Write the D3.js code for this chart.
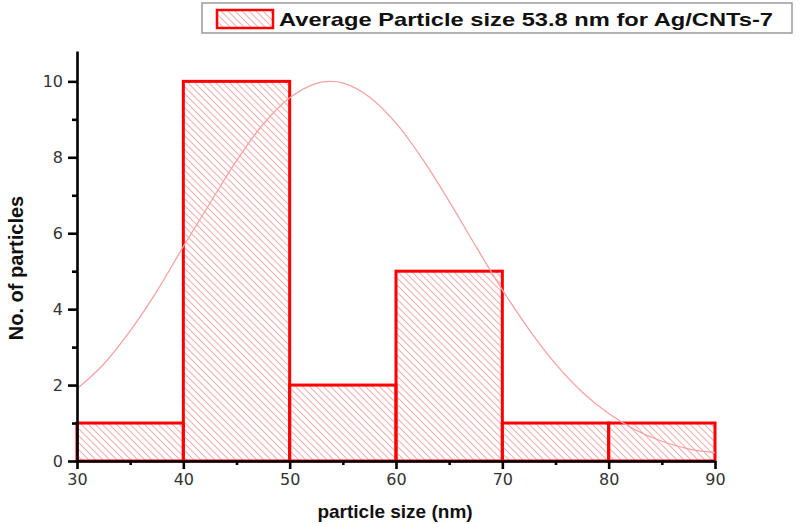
<!DOCTYPE html>
<html><head><meta charset="utf-8">
<script src="https://d3js.org/d3.v7.min.js"></script>
<style>body{margin:0;background:#fff}svg{display:block}</style>
</head><body><svg id="c" width="800" height="524"></svg>
<script>
// ---- data ----
const binStarts = [30, 40, 50, 60, 70, 80];
const binEnds   = [40, 50, 60, 70, 80, 90];
const counts    = [1, 10, 2, 5, 1, 1];
// fitted distribution curve
const fitX = [30, 32.5, 35, 37.5, 40, 42.5, 45, 47.5, 50, 52.5, 53.8, 55, 57.5, 60, 62.5, 65, 67.5, 70, 72.5, 75, 77.5, 80, 82.5, 85, 87.5, 90];
const fitY = [1.9, 2.55, 3.43, 4.47, 5.65, 6.79, 7.91, 8.87, 9.57, 9.95, 10, 9.96, 9.59, 8.9, 7.95, 6.84, 5.66, 4.51, 3.47, 2.56, 1.82, 1.25, 0.82, 0.52, 0.32, 0.22];
const xTicks = [30, 40, 50, 60, 70, 80, 90];
const xMinor = [35, 45, 55, 65, 75, 85];
const yTicks = [0, 2, 4, 6, 8, 10];
const yMinor = [1, 3, 5, 7, 9];
const legendLabel = "Average Particle size 53.8 nm for Ag/CNTs-7";
const xTitle = "particle size (nm)";
const yTitle = "No. of particles";

// ---- chart ----
const svg = d3.select("#c");
const x = d3.scaleLinear().domain([30, 90]).range([77, 715]);
const y = d3.scaleLinear().domain([0, 10.8]).range([461, 51]);

const defs = svg.append("defs");
defs.append("pattern").attr("id", "hatch").attr("patternUnits", "userSpaceOnUse")
  .attr("width", 7).attr("height", 7)
  .append("path").attr("d", "M-1,-1 L8,8 M-1,6 L1,8 M6,-1 L8,1")
  .attr("stroke", "#f4b0b0").attr("stroke-width", 1.1).attr("fill", "none");

const bars = binStarts.map((s, i) => ({s, e: binEnds[i], c: counts[i]}));
svg.append("g").selectAll("rect").data(bars).join("rect")
  .attr("x", d => x(d.s)).attr("y", d => y(d.c))
  .attr("width", d => x(d.e) - x(d.s)).attr("height", d => y(0) - y(d.c))
  .attr("fill", "url(#hatch)").attr("stroke", "#ff0000").attr("stroke-width", 3);

const line = d3.line().x((d, i) => x(fitX[i])).y(d => y(d)).curve(d3.curveCatmullRom);
svg.append("path").datum(fitY).attr("d", line)
  .attr("fill", "none").attr("stroke", "#f5a3a3").attr("stroke-width", 1.3);

// axes
const font = "'Liberation Sans', Arial, sans-serif";
const gx = svg.append("g").attr("transform", `translate(0,${y(0)})`)
  .call(d3.axisBottom(x).tickValues(xTicks).tickSize(8).tickSizeOuter(0).tickPadding(5));
const gxm = svg.append("g").attr("transform", `translate(0,${y(0)})`)
  .call(d3.axisBottom(x).tickValues(xMinor).tickSize(4).tickFormat(""));
gxm.select(".domain").remove();
const gy = svg.append("g").attr("transform", `translate(${x(30)},0)`)
  .call(d3.axisLeft(y).tickValues(yTicks).tickSize(9).tickSizeOuter(0).tickPadding(5));
const gym = svg.append("g").attr("transform", `translate(${x(30)},0)`)
  .call(d3.axisLeft(y).tickValues(yMinor).tickSize(5).tickFormat(""));
gym.select(".domain").remove();
svg.selectAll(".domain, .tick line").attr("stroke", "#000").attr("stroke-width", 2.6);
svg.selectAll(".tick text").attr("fill", "#333").style("font-family", "'DejaVu Sans', sans-serif").style("font-size", "16px");

svg.append("text").attr("x", 395).attr("y", 518).attr("text-anchor", "middle")
  .style("font-family", font).style("font-weight", "bold").style("font-size", "19px")
  .attr("fill", "#111").text(xTitle);
svg.append("text").attr("transform", "translate(23,268) rotate(-90)").attr("text-anchor", "middle")
  .style("font-family", "'Liberation Sans Narrow', 'Arial Narrow', " + font).style("font-weight", "bold").style("font-size", "20px")
  .attr("fill", "#111").text(yTitle);

// legend
const lg = svg.append("g");
lg.append("rect").attr("x", 202).attr("y", 3).attr("width", 590).attr("height", 30)
  .attr("fill", "#fff").attr("stroke", "#9a9a9a").attr("stroke-width", 1.5);
lg.append("rect").attr("x", 217).attr("y", 10).attr("width", 56).attr("height", 18)
  .attr("fill", "url(#hatch)").attr("stroke", "#ff0000").attr("stroke-width", 2.5);
lg.append("text").attr("x", 279).attr("y", 26)
  .style("font-family", font).style("font-weight", "bold").style("font-size", "19px")
  .attr("fill", "#111").attr("textLength", 494).attr("lengthAdjust", "spacingAndGlyphs")
  .text(legendLabel);
</script></body></html>
